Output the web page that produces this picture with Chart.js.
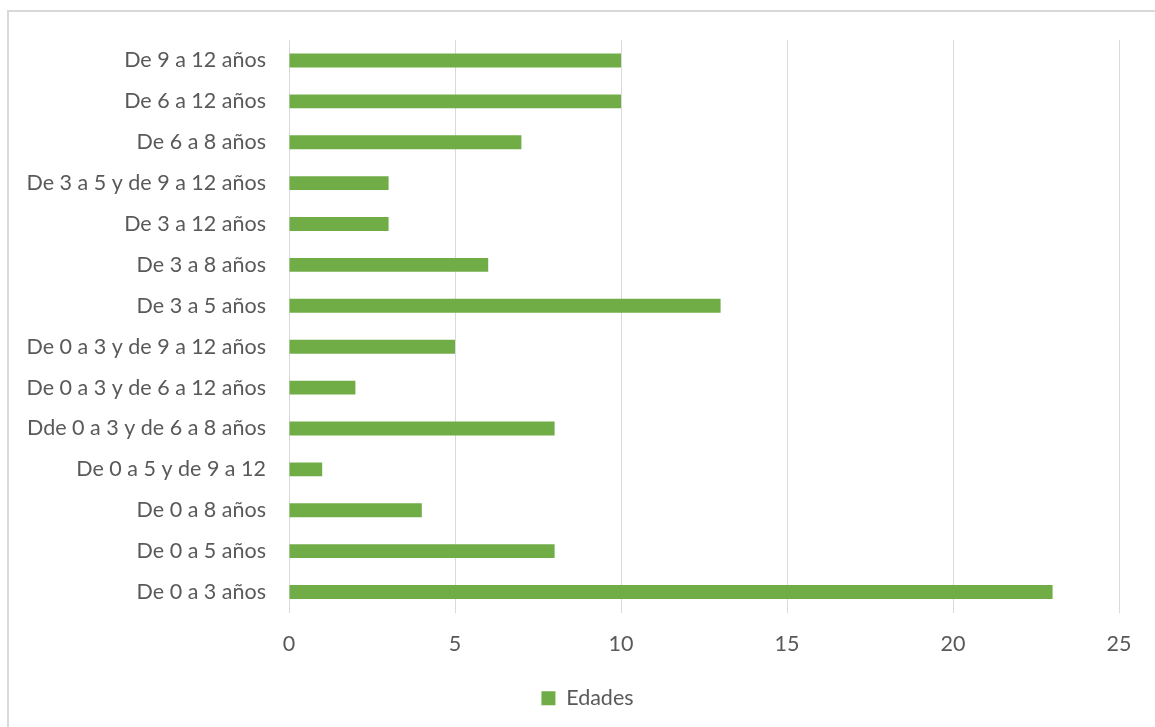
<!DOCTYPE html>
<html><head><meta charset="utf-8">
<script src="https://cdn.jsdelivr.net/npm/chart.js@4"></script>
<style>html,body{margin:0;padding:0;background:#fff;overflow:hidden}#wrap{width:1155px;height:727px;position:relative}</style>
</head><body><div id="wrap"><canvas id="c" width="1155" height="727"></canvas></div>
<script>
const categories = ["De 9 a 12 años","De 6 a 12 años","De 6 a 8 años","De 3 a 5 y de 9 a 12 años","De 3 a 12 años","De 3 a 8 años","De 3 a 5 años","De 0 a 3 y de 9 a 12 años","De 0 a 3 y de 6 a 12 años","Dde 0 a 3 y de 6 a 8 años","De 0 a 5 y de 9 a 12","De 0 a 8 años","De 0 a 5 años","De 0 a 3 años"];
const edades = [10,10,7,3,3,6,13,5,2,8,1,4,8,23];
const seriesName = "Edades";
const xTicks = [0,5,10,15,20,25];

const FONT = "Lato";
const TXT = "#595959";
const border = {id:'border', beforeDraw(ch){const c=ch.ctx;c.save();c.strokeStyle='#d9d9d9';c.lineWidth=2;c.strokeRect(8,11,1200,800);c.restore();}};
const legendShift = {id:'legendShift', afterLayout(ch){ if(ch.legend){ch.legend.left+=28; ch.legend.right+=28;} }};
new Chart(document.getElementById('c'), {
  type:'bar',
  data:{labels:categories, datasets:[{label:seriesName, data:edades, backgroundColor:'#70ad47', borderWidth:0, categoryPercentage:1, barPercentage:0.34}]},
  options:{
    indexAxis:'y', responsive:false, animation:false,
    layout:{padding:{top:40,right:36,bottom:8,left:0}},
    plugins:{legend:{position:'bottom', labels:{color:TXT, font:{family:FONT,size:21.5}, boxWidth:14, boxHeight:14, padding:10}}, tooltip:{enabled:false}},
    scales:{
      x:{min:0,max:25, afterBuildTicks(s){s.ticks=xTicks.map(v=>({value:v}));},
        grid:{color:'#d9d9d9',drawTicks:false}, border:{display:false},
        ticks:{color:TXT,font:{family:FONT,size:21.5},padding:19, maxRotation:0},
        afterFit(s){s.height=65;}},
      y:{grid:{display:false,drawTicks:false}, border:{display:false},
        ticks:{color:TXT,font:{family:FONT,size:21.5},padding:23},
        afterFit(s){s.width=289;}}
    }
  },
  plugins:[border, legendShift]
});
</script></body></html>
